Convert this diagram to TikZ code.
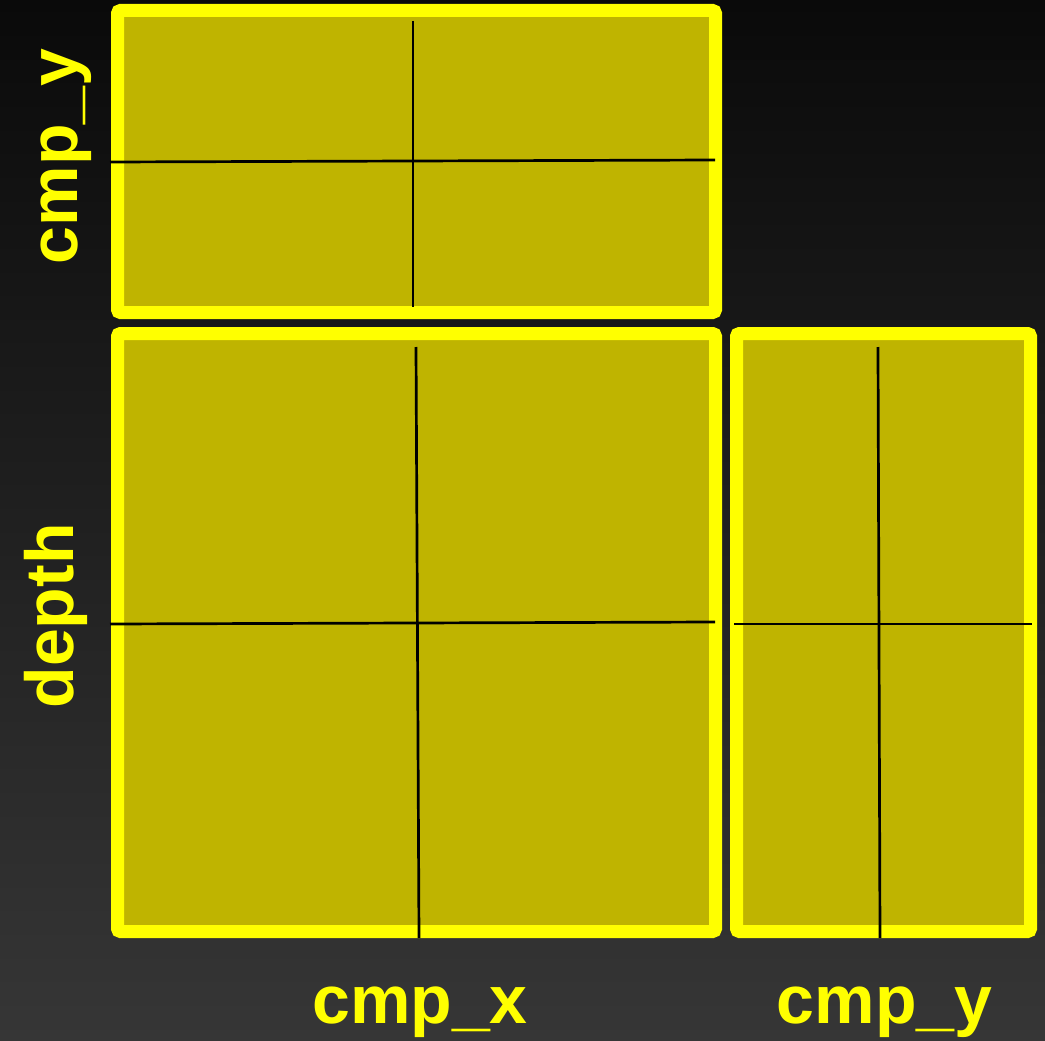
\documentclass[tikz,border=0pt]{standalone}
\usepackage{fontspec}
\setmainfont{Liberation Sans}
\begin{document}
\begin{tikzpicture}[x=1pt,y=-1pt,
  panel/.style={draw={rgb,255:red,255;green,255;blue,0}, fill={rgb,255:red,191;green,180;blue,0},
    line width=13pt, rounded corners=3pt, rectangle, inner sep=0pt},
  axisline/.style={draw=black, line width=2.7pt},
  lab/.style={text={rgb,255:red,255;green,255;blue,0}, font=\fontsize{68}{80}\selectfont\bfseries, inner sep=0pt, anchor=base}]
\shade[top color={rgb,255:red,10;green,10;blue,10}, bottom color={rgb,255:red,54;green,54;blue,54}]
  (0,0) rectangle (1045,1041);
\useasboundingbox (0,0) rectangle (1045,1041);
% panels
\node[panel, minimum width=598pt, minimum height=302pt] (top) at (416.5,161.5) {};
\node[panel, minimum width=598pt, minimum height=598pt] (main) at (416.5,632.5) {};
\node[panel, minimum width=294pt, minimum height=598pt] (side) at (883.5,632.5) {};
% cross lines
\coordinate (t1) at (413,21); \coordinate (t2) at (413,307);
\coordinate (t3) at (110,162); \coordinate (t4) at (715,160);
\draw[axisline] (t1) -- (t2);
\draw[axisline] (t3) -- (t4);
\coordinate (m1) at (416,347); \coordinate (m2) at (419,938);
\coordinate (m3) at (110,624); \coordinate (m4) at (715,622);
\draw[axisline] (m1) -- (m2);
\draw[axisline] (m3) -- (m4);
\coordinate (s1) at (878,347); \coordinate (s2) at (880,938);
\coordinate (s3) at (734,624); \coordinate (s4) at (1032,624);
\draw[axisline] (s1) -- (s2);
\draw[axisline] (s3) -- (s4);
% labels
\node[lab, rotate=90] (ly) at (77,156.5) {cmp\_y};
\node[lab, rotate=90] (ld) at (73,616) {depth};
\node[lab] (lx) at (420,1023) {cmp\_x};
\node[lab] (ly2) at (884.5,1023) {cmp\_y};
\end{tikzpicture}
\end{document}
